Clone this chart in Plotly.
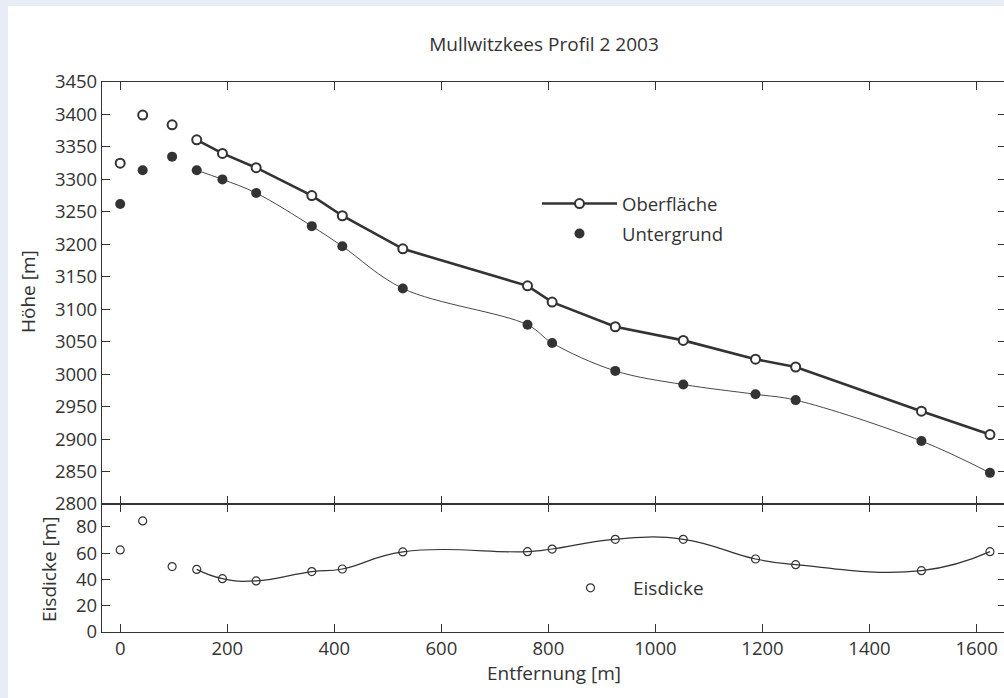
import plotly.graph_objects as go

# ---- data ----
distance = [0, 42, 97, 143, 191, 254, 358, 415, 528, 761, 807, 925, 1052, 1187, 1262, 1497, 1625]
surface = [3325, 3399, 3384, 3361, 3340, 3318, 3275, 3244, 3193, 3136, 3111, 3073, 3052, 3023, 3011, 2943, 2907]
bed = [3262, 3314, 3335, 3314, 3300, 3279, 3228, 3197, 3132, 3076, 3048, 3005, 2984, 2969, 2960, 2897, 2848]
thickness = [62.5, 84.6, 49.8, 47.7, 40.6, 38.9, 46, 48, 61, 61.2, 63.2, 70.6, 70.6, 55.6, 51.3, 46.7, 61.2]
first_connected = 3  # lines are drawn from the 4th point on

title_text = "Mullwitzkees Profil 2 2003"
x_title = "Entfernung [m]"
y_title_top = "Höhe [m]"
y_title_bottom = "Eisdicke [m]"

INK = "#333333"
PAGE = "#e8edf5"
FONT = "Open Sans"

W, H = 1006, 698
ML, MR, MT, MB = 102, 0, 82, 66
pw = W - ML - MR
ph = H - MT - MB
split = 128 / ph  # lower panel height fraction


def px_x(p):
    return (p - ML) / pw


def px_y(p):
    return (H - MB - p) / ph


fig = go.Figure()

# Oberfläche: unconnected first points
fig.add_trace(go.Scatter(
    x=distance[:first_connected], y=surface[:first_connected], mode="markers",
    marker=dict(symbol="circle-open", size=9, color=INK, line=dict(width=2)),
    xaxis="x2", yaxis="y2", showlegend=False, hoverinfo="skip"))
# Oberfläche: connected
fig.add_trace(go.Scatter(
    x=distance[first_connected:], y=surface[first_connected:], mode="lines+markers",
    line=dict(color=INK, width=2.6),
    marker=dict(symbol="circle", size=9, color="white", line=dict(width=2, color=INK)),
    xaxis="x2", yaxis="y2", name="Oberfläche", legend="legend"))
# Untergrund: thin spline
fig.add_trace(go.Scatter(
    x=distance[first_connected:], y=bed[first_connected:], mode="lines",
    line=dict(color=INK, width=0.9, shape="spline", smoothing=1.0),
    xaxis="x2", yaxis="y2", showlegend=False, hoverinfo="skip"))
fig.add_trace(go.Scatter(
    x=distance, y=bed, mode="markers",
    marker=dict(symbol="circle", size=10, color=INK),
    xaxis="x2", yaxis="y2", name="Untergrund", legend="legend2"))

# Eisdicke
fig.add_trace(go.Scatter(
    x=distance[first_connected:], y=thickness[first_connected:], mode="lines",
    line=dict(color=INK, width=1.2, shape="spline", smoothing=1.3),
    xaxis="x", yaxis="y", showlegend=False, hoverinfo="skip"))
fig.add_trace(go.Scatter(
    x=distance, y=thickness, mode="markers",
    marker=dict(symbol="circle-open", size=8, color=INK, line=dict(width=1.2)),
    xaxis="x", yaxis="y", name="Eisdicke", legend="legend3"))

xr = [-34, 1655]
axis_common = dict(showline=True, linecolor=INK, linewidth=1.2, ticks="inside",
                   ticklen=8, tickcolor=INK, tickwidth=1.2, mirror="ticks",
                   showgrid=False, zeroline=False,
                   tickfont=dict(family=FONT, size=18.5, color=INK))

fig.update_layout(
    width=W, height=H,
    margin=dict(l=ML, r=MR, t=MT, b=MB),
    paper_bgcolor=PAGE,
    plot_bgcolor="white",
    font=dict(family=FONT, color=INK),
    title=dict(text=title_text, x=544 / W, xanchor="center", y=1 - 44 / H, yanchor="middle",
               font=dict(family=FONT, size=19, color=INK)),
    xaxis=dict(domain=[0, 1], range=xr, dtick=200, tick0=0, anchor="y", **axis_common,
               title=dict(text=x_title, font=dict(family=FONT, size=19, color=INK), standoff=4)),
    yaxis=dict(domain=[0, split], range=[0, 97.5], dtick=20, tick0=0, anchor="x", **axis_common),
    xaxis2=dict(domain=[0, 1], range=xr, dtick=200, tick0=0, anchor="y2", matches="x",
                showticklabels=False, **axis_common),
    yaxis2=dict(domain=[split, 1], range=[2800, 3450], dtick=50, tick0=2800, anchor="x2",
                **axis_common),
    legend=dict(x=px_x(537), y=px_y(204), xanchor="left", yanchor="middle",
                bgcolor="rgba(0,0,0,0)", itemwidth=75,
                font=dict(family=FONT, size=18.5, color=INK)),
    legend2=dict(x=px_x(537), y=px_y(234), xanchor="left", yanchor="middle",
                 bgcolor="rgba(0,0,0,0)", itemwidth=75,
                 font=dict(family=FONT, size=18.5, color=INK)),
    legend3=dict(x=px_x(548), y=px_y(588), xanchor="left", yanchor="middle",
                 bgcolor="rgba(0,0,0,0)", itemwidth=75,
                 font=dict(family=FONT, size=19, color=INK)),
    shapes=[dict(type="rect", xref="paper", yref="paper", layer="below",
                 x0=px_x(8), x1=px_x(W + 5), y0=px_y(H + 5), y1=px_y(6),
                 fillcolor="white", line=dict(width=0))],
    annotations=[
        dict(text=y_title_top, xref="paper", yref="paper", x=px_x(28), y=px_y(292),
             textangle=-90, showarrow=False, xanchor="center", yanchor="middle",
             font=dict(family=FONT, size=19, color=INK)),
        dict(text=y_title_bottom, xref="paper", yref="paper", x=px_x(49), y=px_y(569),
             textangle=-90, showarrow=False, xanchor="center", yanchor="middle",
             font=dict(family=FONT, size=19, color=INK)),
    ],
)

fig.write_html(
    "out.html",
    config={"displayModeBar": False},
    post_script=("document.body.style.margin='0';document.body.style.overflow='hidden';"
                 "document.body.style.background='" + PAGE + "';"),
)
